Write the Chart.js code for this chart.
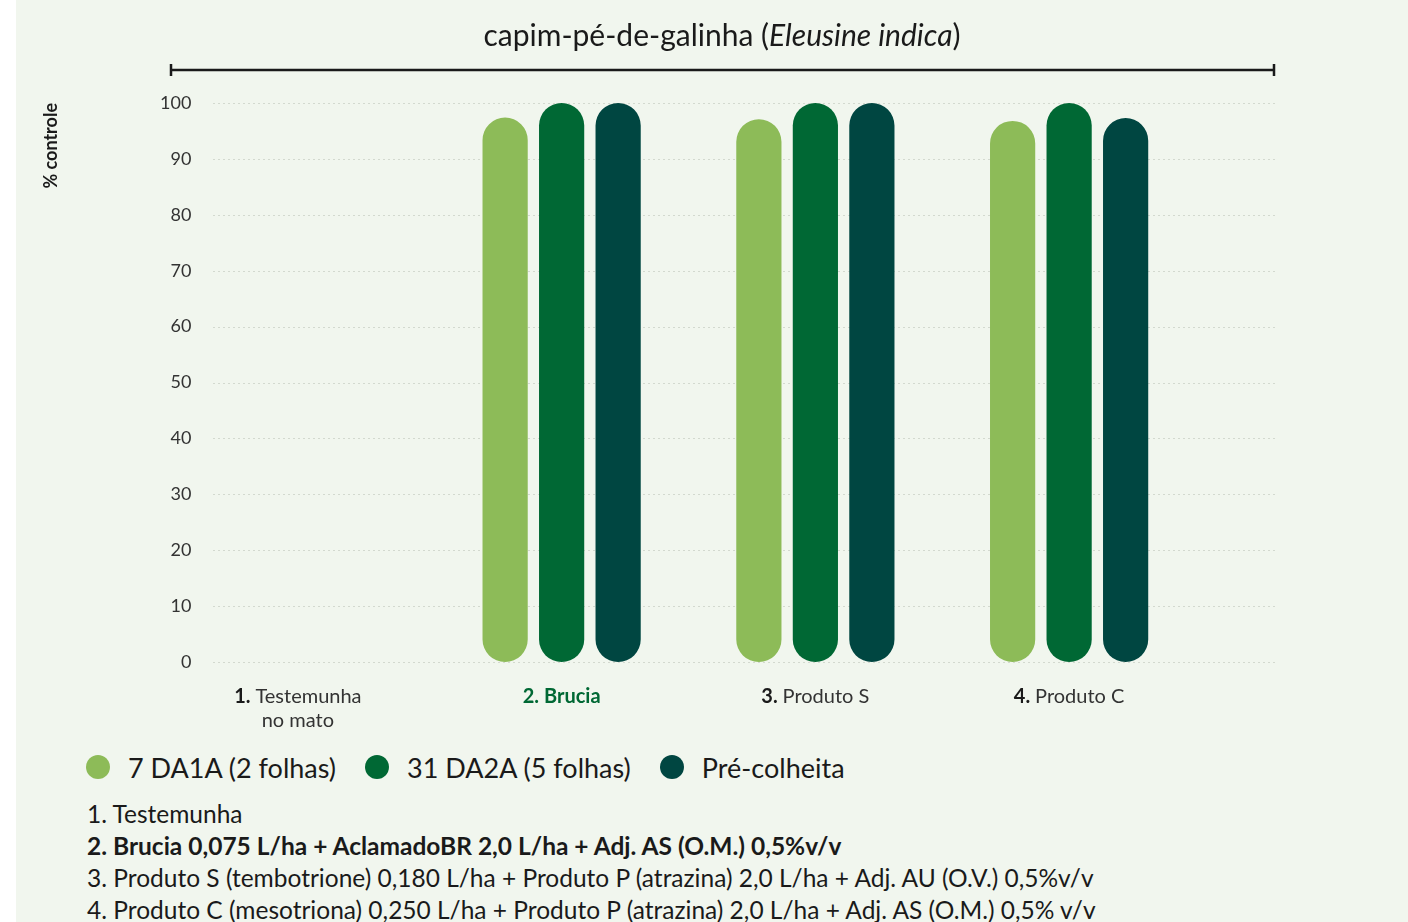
<!DOCTYPE html>
<html>
<head>
<meta charset="utf-8">
<script src="https://cdn.jsdelivr.net/npm/chart.js@4"></script>
<style>
  html, body { margin: 0; padding: 0; background: #fff; width: 1408px; height: 922px; overflow: hidden; font-family: Lato, "Noto Sans", sans-serif; }
  #panel { position: absolute; left: 16px; top: 0; right: 0; bottom: 0; background: #f1f6ee; }
  #chart { position: absolute; left: 0; top: 0; }
  #legend { position: absolute; left: 86px; top: 750px; height: 34px; display: flex; align-items: center; font-size: 27px; color: #1a1a1a; }
  #legend .item { display: flex; align-items: center; margin-right: 29px; }
  #legend .dot { width: 24px; height: 24px; border-radius: 50%; margin-right: 18px; }
  #notes { position: absolute; left: 87px; top: 798px; font-size: 24.5px; line-height: 32px; color: #1a1a1a; }
  #notes .b { font-weight: bold; }
</style>
</head>
<body>
<div id="panel"></div>
<canvas id="chart" width="1408" height="740"></canvas>
<div id="legend"></div>
<div id="notes"></div>
<script>
// data
const categoryNums = ['1.', '2.', '3.', '4.'];
const categoryNames = [['Testemunha', 'no mato'], ['Brucia'], ['Produto S'], ['Produto C']];
const seriesNames = ['7 DA1A (2 folhas)', '31 DA2A (5 folhas)', 'Pré-colheita'];
const da1a = [null, 97.4, 97.1, 96.8];
const da2a = [null, 100, 100, 100];
const preColheita = [null, 100, 100, 97.3];
const yTicks = [0, 10, 20, 30, 40, 50, 60, 70, 80, 90, 100];
const footnotes = [
    '1. Testemunha',
    '2. Brucia 0,075 L/ha + AclamadoBR 2,0 L/ha + Adj. AS (O.M.) 0,5%v/v',
    '3. Produto S (tembotrione) 0,180 L/ha + Produto P (atrazina) 2,0 L/ha + Adj. AU (O.V.) 0,5%v/v',
    '4. Produto C (mesotriona) 0,250 L/ha + Produto P (atrazina) 2,0 L/ha + Adj. AS (O.M.) 0,5% v/v'
];
const colors = ['#8dbb58', '#006834', '#004641'];
const FONT = 'Lato, "Noto Sans", sans-serif';

// 1. Title, bracket line, dotted grid and category labels
const decorPlugin = {
    id: 'decor',
    beforeDatasetsDraw(chart) {
        const ctx = chart.ctx;
        const y = chart.scales.y;
        ctx.save();
        ctx.strokeStyle = '#d3d9cf';
        ctx.lineWidth = 1;
        ctx.setLineDash([2, 3]);
        yTicks.forEach(v => {
            const py = Math.round(y.getPixelForValue(v)) + 0.5;
            ctx.beginPath();
            ctx.moveTo(213, py);
            ctx.lineTo(1275, py);
            ctx.stroke();
        });
        ctx.restore();
    },
    afterDraw(chart) {
        const ctx = chart.ctx;
        ctx.save();
        // title with italic species name
        const t1 = 'capim-pé-de-galinha (', t2 = 'Eleusine indica', t3 = ')';
        const regular = `30px ${FONT}`, italic = `italic 30px ${FONT}`;
        ctx.font = regular; const w1 = ctx.measureText(t1).width, w3 = ctx.measureText(t3).width;
        ctx.font = italic; const w2 = ctx.measureText(t2).width;
        let x = 722 - (w1 + w2 + w3) / 2;
        ctx.fillStyle = '#1a1a1a';
        ctx.textBaseline = 'middle';
        ctx.textAlign = 'left';
        ctx.font = regular; ctx.fillText(t1, x, 36); x += w1;
        ctx.font = italic; ctx.fillText(t2, x, 36); x += w2;
        ctx.font = regular; ctx.fillText(t3, x, 36);

        // bracket line
        ctx.strokeStyle = '#1a1a1a';
        ctx.lineWidth = 2.5;
        ctx.beginPath();
        ctx.moveTo(171, 70); ctx.lineTo(1274, 70);
        ctx.moveTo(171, 64); ctx.lineTo(171, 76);
        ctx.moveTo(1274, 64); ctx.lineTo(1274, 76);
        ctx.stroke();

        // category labels
        const xs = chart.scales.x;
        categoryNums.forEach((num, i) => {
            const cx = xs.getPixelForValue(i) - (i === 0 ? 10 : 0);
            const isBrucia = i === 1;
            categoryNames[i].forEach((line, j) => {
                const py = 697 + j * 24;
                if (j === 0) {
                    const boldF = `bold 20px ${FONT}`;
                    const nameF = isBrucia ? `bold 20px ${FONT}` : `20px ${FONT}`;
                    ctx.font = boldF; const wn = ctx.measureText(num + ' ').width;
                    ctx.font = nameF; const wl = ctx.measureText(line).width;
                    let lx = cx - (wn + wl) / 2;
                    ctx.fillStyle = isBrucia ? '#006834' : '#1a1a1a';
                    ctx.font = boldF; ctx.fillText(num + ' ', lx, py);
                    ctx.fillStyle = isBrucia ? '#006834' : '#333';
                    ctx.font = nameF; ctx.fillText(line, lx + wn, py);
                } else {
                    ctx.font = `20px ${FONT}`;
                    ctx.fillStyle = '#333';
                    ctx.textAlign = 'center';
                    ctx.fillText(line, cx, py);
                    ctx.textAlign = 'left';
                }
            });
        });
        ctx.restore();
    }
};

// 2. Chart
const ctx = document.getElementById('chart').getContext('2d');
new Chart(ctx, {
    type: 'bar',
    data: {
        labels: categoryNums.map((n, i) => n + ' ' + categoryNames[i].join(' ')),
        datasets: [da1a, da2a, preColheita].map((d, i) => ({
            label: seriesNames[i],
            data: d,
            backgroundColor: colors[i],
            borderRadius: 23,
            borderSkipped: false,
            categoryPercentage: 0.668,
            barPercentage: 0.8
        }))
    },
    options: {
        responsive: false,
        animation: false,
        layout: { padding: { left: 30, right: 212, top: 103, bottom: 78 } },
        plugins: { legend: { display: false }, tooltip: { enabled: false } },
        scales: {
            x: {
                offset: true,
                grid: { display: false, drawTicks: false },
                border: { display: false },
                ticks: { display: false }
            },
            y: {
                min: 0, max: 100,
                afterFit(scale) { scale.width = 151; },
                grid: { display: false, drawTicks: false },
                border: { display: false },
                ticks: {
                    stepSize: 10, mirror: true, crossAlign: 'far', padding: -21,
                    color: '#333', font: { family: FONT, size: 18 }
                },
                title: {
                    display: true, text: '% controle', align: 'end',
                    color: '#1a1a1a', padding: { top: 10, bottom: 0 },
                    font: { family: FONT, size: 18, weight: 'bold' }
                }
            }
        }
    },
    plugins: [decorPlugin]
});

// 3. Legend and footnotes
const legend = document.getElementById('legend');
seriesNames.forEach((name, i) => {
    const item = document.createElement('div');
    item.className = 'item';
    item.innerHTML = `<span class="dot" style="background:${colors[i]}"></span><span>${name}</span>`;
    legend.appendChild(item);
});
const notes = document.getElementById('notes');
footnotes.forEach((line, i) => {
    const div = document.createElement('div');
    if (i === 1) div.className = 'b';
    div.innerText = line;
    notes.appendChild(div);
});
</script>
</body>
</html>
